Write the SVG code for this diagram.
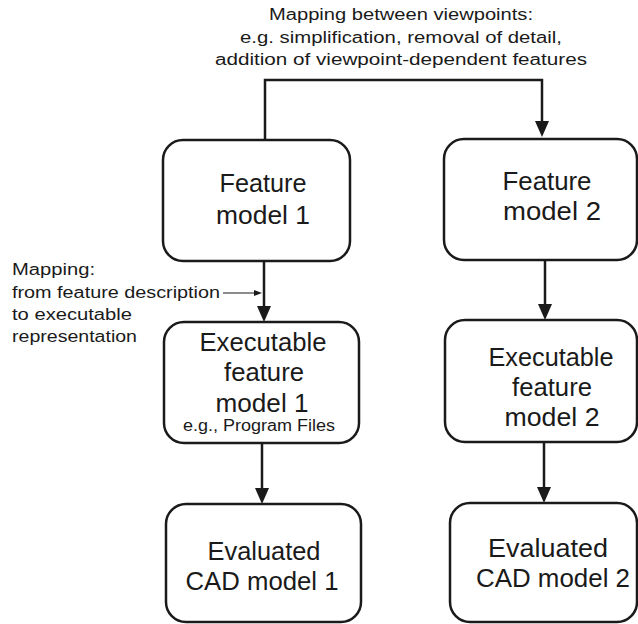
<svg xmlns="http://www.w3.org/2000/svg" width="638" height="624" viewBox="0 0 638 624">
<defs>
<style>
.box{fill:#fff;stroke:#1a1a1a;stroke-width:2.5}
.t{font-family:"Liberation Sans","DejaVu Sans",sans-serif;font-size:25px;fill:#1a1a1a;text-anchor:middle}
.s{font-family:"Liberation Sans","DejaVu Sans",sans-serif;font-size:16px;fill:#1a1a1a}
.c{fill:none;stroke:#1a1a1a;stroke-width:2.5}
.thin{fill:none;stroke:#1a1a1a;stroke-width:1.2}
.head{fill:#1a1a1a}
</style>
</defs>
<g id="connectors">
<path class="c" d="M265,140 V80 H542 V122"/>
<path class="head" d="M535,121 L549,121 L542,137 Z"/>
<path class="c" d="M264,261 V307"/>
<path class="head" d="M257,306 L271,306 L264,322 Z"/>
<path class="c" d="M262,443 V489"/>
<path class="head" d="M255,488 L269,488 L262,504 Z"/>
<path class="c" d="M545,260 V305"/>
<path class="head" d="M538,304 L552,304 L545,320 Z"/>
<path class="c" d="M544,442 V488"/>
<path class="head" d="M537,487 L551,487 L544,503 Z"/>
<path class="thin" d="M223,293 H256"/>
<path class="head" d="M254,290 L262,293 L254,296 Z"/>
</g>
<g id="label-top">
<text class="s" x="401" y="20" text-anchor="middle" textLength="264" lengthAdjust="spacingAndGlyphs">Mapping between viewpoints:</text>
<text class="s" x="401" y="43" text-anchor="middle" textLength="322" lengthAdjust="spacingAndGlyphs">e.g. simplification, removal of detail,</text>
<text class="s" x="401" y="65" text-anchor="middle" textLength="372" lengthAdjust="spacingAndGlyphs">addition of viewpoint-dependent features</text>
</g>
<g id="label-left">
<text class="s" x="12" y="275" font-size="17" textLength="83" lengthAdjust="spacingAndGlyphs">Mapping:</text>
<text class="s" x="12" y="298" font-size="17" textLength="208" lengthAdjust="spacingAndGlyphs">from feature description</text>
<text class="s" x="12" y="320" font-size="17" textLength="120" lengthAdjust="spacingAndGlyphs">to executable</text>
<text class="s" x="12" y="342" font-size="17" textLength="125" lengthAdjust="spacingAndGlyphs">representation</text>
</g>
<g id="fm1">
<rect class="box" x="163" y="140" width="187" height="121" rx="20"/>
<text class="t" x="263" y="192" textLength="87" lengthAdjust="spacingAndGlyphs">Feature</text>
<text class="t" x="263" y="224" textLength="94" lengthAdjust="spacingAndGlyphs">model 1</text>
</g>
<g id="fm2">
<rect class="box" x="444" y="139" width="193" height="121" rx="20"/>
<text class="t" x="547" y="190" textLength="89" lengthAdjust="spacingAndGlyphs">Feature</text>
<text class="t" x="552" y="220" textLength="98" lengthAdjust="spacingAndGlyphs">model 2</text>
</g>
<g id="efm1">
<rect class="box" x="164" y="322" width="195" height="121" rx="20"/>
<text class="t" x="263" y="351" textLength="127" lengthAdjust="spacingAndGlyphs">Executable</text>
<text class="t" x="264" y="381" textLength="80" lengthAdjust="spacingAndGlyphs">feature</text>
<text class="t" x="262" y="412" textLength="93" lengthAdjust="spacingAndGlyphs">model 1</text>
<text class="s" x="259" y="431" text-anchor="middle" font-size="14" textLength="152" lengthAdjust="spacingAndGlyphs">e.g., Program Files</text>
</g>
<g id="efm2">
<rect class="box" x="445" y="320" width="192" height="122" rx="20"/>
<text class="t" x="551" y="366" textLength="125" lengthAdjust="spacingAndGlyphs">Executable</text>
<text class="t" x="552" y="396" textLength="80" lengthAdjust="spacingAndGlyphs">feature</text>
<text class="t" x="552" y="426" textLength="95" lengthAdjust="spacingAndGlyphs">model 2</text>
</g>
<g id="cad1">
<rect class="box" x="166" y="504" width="195" height="118" rx="20"/>
<text class="t" x="264" y="560" textLength="113" lengthAdjust="spacingAndGlyphs">Evaluated</text>
<text class="t" x="262" y="590" textLength="153" lengthAdjust="spacingAndGlyphs">CAD model 1</text>
</g>
<g id="cad2">
<rect class="box" x="450" y="503" width="187" height="119" rx="20"/>
<text class="t" x="548" y="557" textLength="120" lengthAdjust="spacingAndGlyphs">Evaluated</text>
<text class="t" x="553" y="587" textLength="154" lengthAdjust="spacingAndGlyphs">CAD model 2</text>
</g>
</svg>
